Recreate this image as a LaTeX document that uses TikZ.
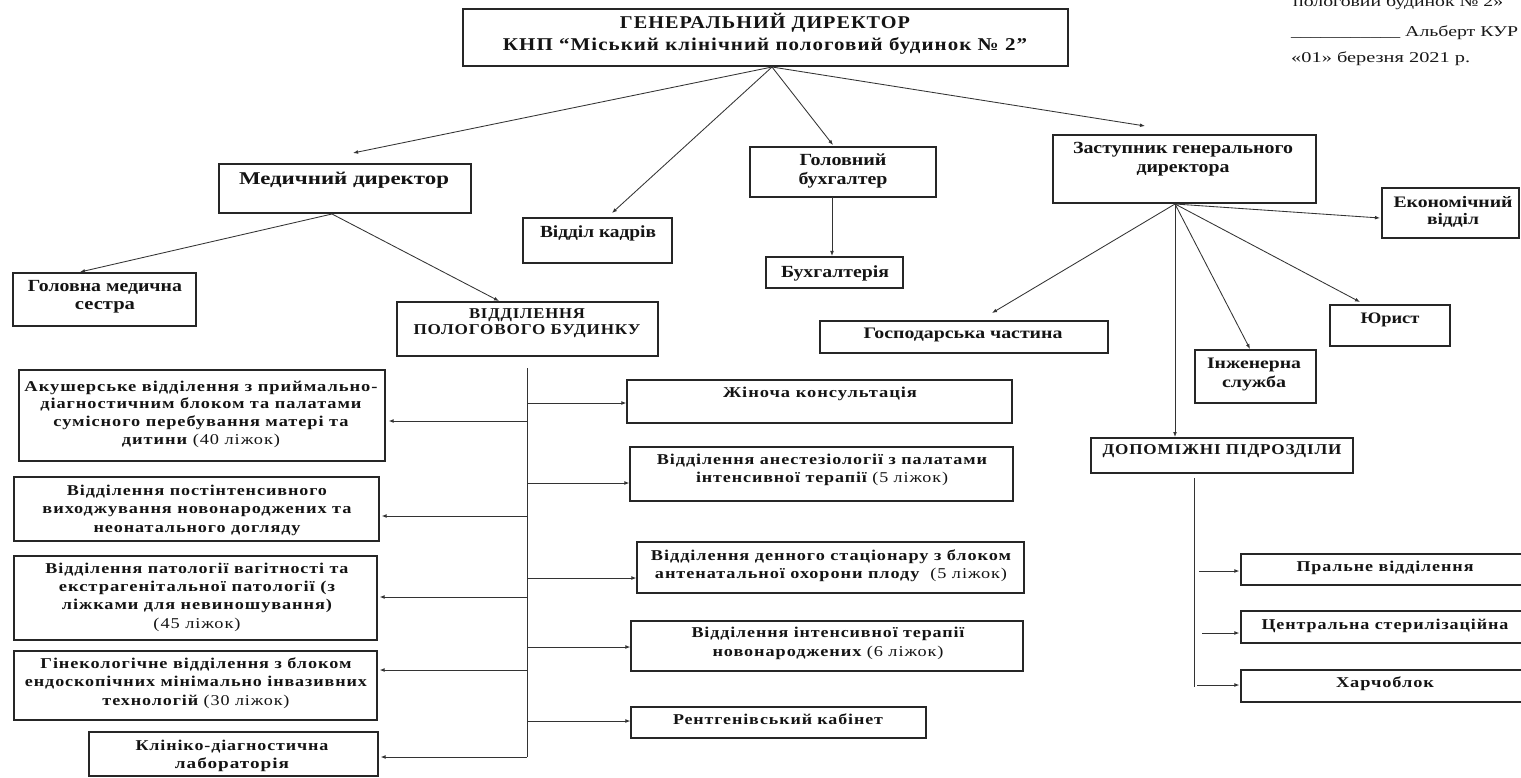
\documentclass[tikz,border=0pt]{standalone}
\usepackage{fontspec}
\usepackage{graphicx}
\setmainfont{Liberation Serif}
\newfontfamily\lsf[LetterSpace=5]{Liberation Serif}
\usetikzlibrary{arrows.meta}
\newcommand\Ln[2]{\strut\resizebox{#1pt}{\height}{#2}}
\newcommand\md[1]{{\mdseries #1}}
\newcommand\mybox[5]{\node[box,minimum width={(#4-#2)*1pt},minimum height={(#5-#3)*1pt}] (#1) at ({(#2+#4)/2},{(#3+#5)/2}) {};}
\newcommand\mytext[7]{\node[txt,font={#2\fontsize{#5}{#6}\selectfont}] (#1) at (#3,{#4+0.33*#5-0.7*#6}) {#7};}
\tikzset{
  box/.style={draw=black!85,line width=1.25pt,inner sep=0pt,rectangle},
  txt/.style={inner sep=0pt,align=center,anchor=north,text=black!92},
  arr/.style={draw=black!80,line width=0.85pt,-{Latex[length=5pt,width=3.8pt]}},
  ln/.style={draw=black!80,line width=0.85pt},
  sig/.style={inner sep=0pt,anchor=base west,text=black!90,font=\fontsize{15}{26}\selectfont}
}
\begin{document}
\begin{tikzpicture}[x=1pt,y=-1pt]
\useasboundingbox (0,0) rectangle (1521,778);
\fill[white] (0,0) rectangle (1521,778);
% boxes
\mybox{gen}{463}{9}{1068}{66}
\mybox{med}{219}{164}{471}{213}
\mybox{kadr}{523}{218}{672}{263}
\mybox{gb}{750}{147}{936}{197}
\mybox{buh}{766}{257}{903}{288}
\mybox{zast}{1053}{135}{1316}{203}
\mybox{econ}{1382}{188}{1519}{238}
\mybox{jur}{1330}{305}{1450}{346}
\mybox{inzh}{1195}{350}{1316}{403}
\mybox{gosp}{820}{321}{1108}{353}
\mybox{dop}{1091}{438}{1353}{473}
\mybox{pral}{1241}{554}{1529}{585}
\mybox{ster}{1241}{611}{1529}{643}
\mybox{harch}{1241}{670}{1529}{702}
\mybox{sestra}{13}{273}{196}{326}
\mybox{vpb}{397}{302}{658}{356}
\mybox{aku}{19}{370}{385}{461}
\mybox{post}{14}{477}{379}{541}
\mybox{pat}{14}{556}{377}{640}
\mybox{gin}{14}{651}{377}{720}
\mybox{klin}{89}{732}{378}{776}
\mybox{zhin}{627}{380}{1012}{423}
\mybox{anest}{630}{447}{1013}{501}
\mybox{denn}{637}{542}{1024}{593}
\mybox{inten}{631}{621}{1023}{671}
\mybox{rent}{631}{707}{926}{738}
% texts
\mytext{gent}{\lsf\bfseries}{765}{22}{18}{22}{\Ln{290}{ГЕНЕРАЛЬНИЙ ДИРЕКТОР}\\\Ln{524}{КНП “Міський клінічний пологовий будинок № 2”}}
\mytext{medt}{\bfseries}{344}{178}{18}{22}{\Ln{210}{Медичний директор}}
\mytext{kadrt}{\bfseries}{598}{232}{17}{20}{\Ln{116}{Відділ кадрів}}
\mytext{gbt}{\bfseries}{843}{160}{17}{19}{\Ln{87}{Головний}\\\Ln{89}{бухгалтер}}
\mytext{buht}{\bfseries}{835}{272}{17}{20}{\Ln{108}{Бухгалтерія}}
\mytext{zastt}{\bfseries}{1183}{148}{17}{19}{\Ln{220}{Заступник генерального}\\\Ln{93}{директора}}
\mytext{econt}{\bfseries}{1453}{202}{16}{17.5}{\Ln{119}{Економічний}\\\Ln{52}{відділ}}
\mytext{jurt}{\bfseries}{1390}{318}{16}{19}{\Ln{59}{Юрист}}
\mytext{inzht}{\bfseries}{1254}{363}{16}{19}{\Ln{94}{Інженерна}\\\Ln{64}{служба}}
\mytext{gospt}{\bfseries}{963}{333}{16}{19}{\Ln{199}{Господарська частина}}
\mytext{sestrat}{\bfseries}{105}{286}{17}{18}{\Ln{154}{Головна медична}\\\Ln{60}{сестра}}
\mytext{vpbt}{\lsf\bfseries}{527}{313}{15}{16}{\Ln{116}{ВІДДІЛЕННЯ}\\\Ln{227}{ПОЛОГОВОГО БУДИНКУ}}
\mytext{dopt}{\lsf\bfseries}{1222}{449}{15}{18}{\Ln{239}{ДОПОМІЖНІ ПІДРОЗДІЛИ}}
\mytext{pralt}{\lsf\bfseries}{1385}{566}{15}{18}{\Ln{177}{Пральне відділення}}
\mytext{stert}{\lsf\bfseries}{1385}{624}{15}{18}{\Ln{247}{Центральна стерилізаційна}}
\mytext{harcht}{\lsf\bfseries}{1385}{682}{15}{18}{\Ln{98}{Харчоблок}}
\mytext{akut}{\lsf\bfseries}{201}{386}{15}{17.7}{\Ln{353}{Акушерське відділення з приймально-}\\\Ln{321}{діагностичним блоком та палатами}\\\Ln{295}{сумісного перебування матері та}\\\Ln{158}{дитини \md{(40 ліжок)}}}
\mytext{postt}{\lsf\bfseries}{197}{490}{15}{18.5}{\Ln{260}{Відділення постінтенсивного}\\\Ln{309}{виходжування новонароджених та}\\\Ln{207}{неонатального догляду}}
\mytext{patt}{\lsf\bfseries}{197}{568}{15}{18.3}{\Ln{303}{Відділення патології вагітності та}\\\Ln{276}{екстрагенітальної патології (з}\\\Ln{270}{ліжками для невиношування)}\\\Ln{87}{\md{(45 ліжок)}}}
\mytext{gint}{\lsf\bfseries}{196}{663}{15}{18.5}{\Ln{311}{Гінекологічне відділення з блоком}\\\Ln{342}{ендоскопічних мінімально інвазивних}\\\Ln{187}{технологій \md{(30 ліжок)}}}
\mytext{klint}{\lsf\bfseries}{232}{745}{15}{18}{\Ln{193}{Клініко-діагностична}\\\Ln{114}{лабораторія}}
\mytext{zhint}{\lsf\bfseries}{820}{392}{15}{18}{\Ln{194}{Жіноча консультація}}
\mytext{anestt}{\lsf\bfseries}{822}{459}{15}{18}{\Ln{330}{Відділення анестезіології з палатами}\\\Ln{252}{інтенсивної терапії \md{(5 ліжок)}}}
\mytext{dennt}{\lsf\bfseries}{831}{555}{15}{18}{\Ln{360}{Відділення денного стаціонару з блоком}\\\Ln{352}{антенатальної охорони плоду~ \md{(5 ліжок)}}}
\mytext{intent}{\lsf\bfseries}{828}{632}{15}{19}{\Ln{273}{Відділення інтенсивної терапії}\\\Ln{231}{новонароджених \md{(6 ліжок)}}}
\mytext{rentt}{\lsf\bfseries}{778}{719}{15}{18}{\Ln{210}{Рентгенівський кабінет}}
% signature block
\node[sig] (sig1) at (1293,7) {\resizebox{210pt}{\height}{пологовий будинок № 2»}};
\node[sig] (sig2) at (1291,37) {\resizebox{227pt}{\height}{\_\_\_\_\_\_\_\_\_\_\_ Альберт КУР}};
\node[sig] (sig3) at (1291,63) {\resizebox{179pt}{\height}{«01» березня 2021 р.}};
% connector points
\coordinate (go) at (772,67);
\coordinate (tmed) at (353,153);
\coordinate (tkadr) at (612,213);
\coordinate (tgb) at (833,145);
\coordinate (tzast) at (1145,126);
\draw[arr] (go) -- (tmed);
\draw[arr] (go) -- (tkadr);
\draw[arr] (go) -- (tgb);
\draw[arr] (go) -- (tzast);
\coordinate (gbo) at (832,197);
\coordinate (tbuh) at (832,256);
\draw[arr] (gbo) -- (tbuh);
\coordinate (mo) at (332,214);
\coordinate (tsestra) at (80,272);
\coordinate (tvpb) at (499,301);
\draw[arr] (mo) -- (tsestra);
\draw[arr] (mo) -- (tvpb);
\coordinate (zo) at (1175,204);
\coordinate (tecon) at (1380,218);
\coordinate (tjur) at (1360,302);
\coordinate (tinzh) at (1250,349);
\coordinate (tgosp) at (992,313);
\coordinate (tdop) at (1175,437);
\draw[arr] (zo) -- (tecon);
\draw[arr] (zo) -- (tjur);
\draw[arr] (zo) -- (tinzh);
\draw[arr] (zo) -- (tgosp);
\draw[arr] (zo) -- (tdop);
% vertical bus of maternity departments
\coordinate (vt) at (527,368);
\coordinate (vb) at (527,757);
\draw[ln] (vt) -- (vb);
\coordinate (l1) at (527,421);
\coordinate (l2) at (527,516);
\coordinate (l3) at (527,597);
\coordinate (l4) at (527,670);
\coordinate (l5) at (527,757);
\draw[arr,shorten >=3pt] (l1) -- (l1 -| aku.east);
\draw[arr,shorten >=2pt] (l2) -- (l2 -| post.east);
\draw[arr,shorten >=2pt] (l3) -- (l3 -| pat.east);
\draw[arr,shorten >=2pt] (l4) -- (l4 -| gin.east);
\draw[arr,shorten >=2pt] (l5) -- (l5 -| klin.east);
\coordinate (r1) at (527,403);
\coordinate (r2) at (527,483);
\coordinate (r3) at (527,578);
\coordinate (r4) at (527,647);
\coordinate (r5) at (527,721);
\draw[arr] (r1) -- (r1 -| zhin.west);
\draw[arr] (r2) -- (r2 -| anest.west);
\draw[arr] (r3) -- (r3 -| denn.west);
\draw[arr] (r4) -- (r4 -| inten.west);
\draw[arr] (r5) -- (r5 -| rent.west);
% auxiliary bus
\coordinate (dt) at (1194,478);
\coordinate (db) at (1194,687);
\draw[ln] (dt) -- (db);
\coordinate (d1) at (1199,571);
\coordinate (d2) at (1202,633);
\coordinate (d3) at (1197,685);
\draw[arr,shorten >=1pt] (d1) -- (d1 -| pral.west);
\draw[arr,shorten >=1pt] (d2) -- (d2 -| ster.west);
\draw[arr,shorten >=1pt] (d3) -- (d3 -| harch.west);
\end{tikzpicture}
\end{document}
